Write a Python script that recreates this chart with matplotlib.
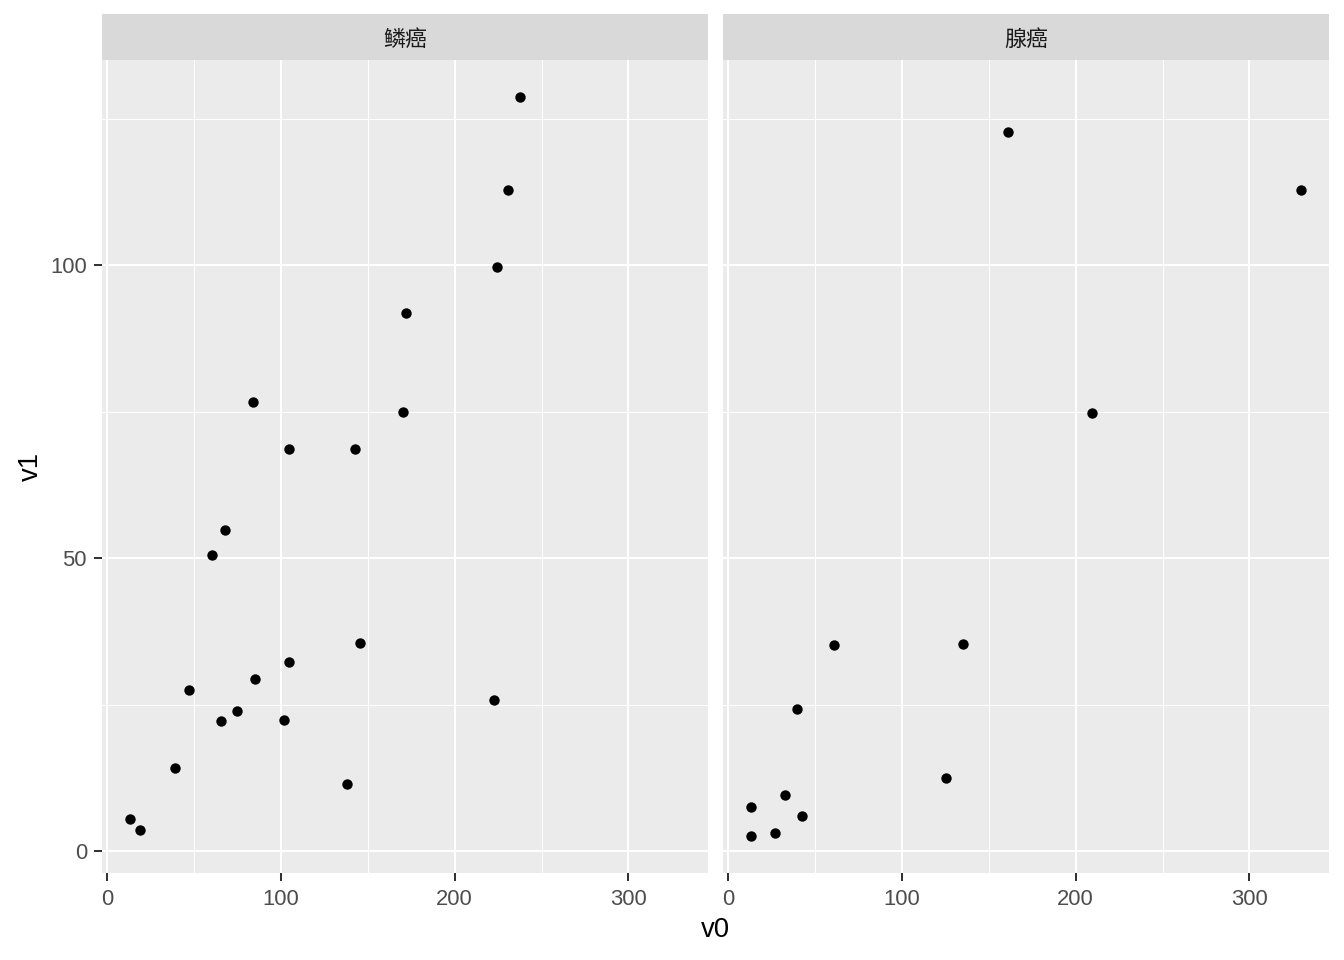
import matplotlib
matplotlib.use("Agg")
import matplotlib.pyplot as plt

plt.rcParams['font.family'] = ['Liberation Sans', 'Noto Sans CJK SC', 'DejaVu Sans']

facets = ["鳞癌", "腺癌"]

sq_v0 = [12.7, 19, 39, 47, 60.4, 65.6, 67.4, 74.8, 84, 85.2, 101.9, 104.8, 104.8,
         138, 142.8, 145.7, 170.4, 172.1, 222.8, 224.5, 230.9, 237.8]
sq_v1 = [5.5, 3.6, 14.2, 27.5, 50.5, 22.2, 54.8, 23.9, 76.6, 29.4, 22.4, 68.6, 32.3,
         11.4, 68.6, 35.5, 74.9, 91.8, 25.8, 99.7, 112.8, 128.7]

ad_v0 = [12.7, 13.2, 26.5, 32.8, 39.7, 42.6, 61, 125.5, 135.3, 161.2, 209.6, 330]
ad_v1 = [7.5, 2.6, 3.1, 9.6, 24.2, 6.1, 35.2, 12.5, 35.3, 122.7, 74.7, 112.8]

data = {"鳞癌": (sq_v0, sq_v1), "腺癌": (ad_v0, ad_v1)}

x_ticks = [0, 100, 200, 300]
x_minor = [50, 150, 250]
y_ticks = [0, 50, 100]
y_minor = [25, 75, 125]

all_x = sq_v0 + ad_v0
all_y = sq_v1 + ad_v1
xr = max(all_x) - min(all_x)
yr = max(all_y) - min(all_y)
xlim = (min(all_x) - 0.05 * xr, max(all_x) + 0.05 * xr)
ylim = (min(all_y) - 0.05 * yr, max(all_y) + 0.05 * yr)

fig = plt.figure(figsize=(13.44, 9.6), dpi=100)
W, H = 1344, 960
lefts = [102, 723]
pw = 606
top, bottom = 60, 873
strip_top = 14

for i, name in enumerate(facets):
    ax = fig.add_axes([lefts[i] / W, (H - bottom) / H, pw / W, (bottom - top) / H])
    ax.set_facecolor("#EBEBEB")
    for s in ax.spines.values():
        s.set_visible(False)
    ax.set_xlim(xlim)
    ax.set_ylim(ylim)
    ax.set_xticks(x_ticks)
    ax.set_xticks(x_minor, minor=True)
    ax.set_yticks(y_ticks)
    ax.set_yticks(y_minor, minor=True)
    ax.grid(which="major", color="white", linewidth=1.45)
    ax.grid(which="minor", color="white", linewidth=0.75)
    ax.set_axisbelow(True)
    ax.tick_params(which="major", length=5.8, width=1.45, color="#333333",
                   labelsize=15.8, labelcolor="#4D4D4D")
    ax.tick_params(axis="x", which="major", pad=5.5)
    ax.tick_params(axis="y", which="major", pad=5)
    ax.tick_params(which="minor", length=0)
    if i > 0:
        ax.tick_params(axis="y", which="major", length=0, labelleft=False)
    xs, ys = data[name]
    ax.scatter(xs, ys, s=56, color="black", linewidths=0, zorder=3)

    sax = fig.add_axes([lefts[i] / W, (H - top) / H, pw / W, (top - strip_top) / H])
    sax.set_facecolor("#D9D9D9")
    sax.set_xticks([])
    sax.set_yticks([])
    for s in sax.spines.values():
        s.set_visible(False)
    sax.text(0.5, 0.43, name, ha="center", va="center", fontsize=15.8, color="#1A1A1A",
             transform=sax.transAxes)

fig.text((lefts[0] + lefts[1] + pw) / 2 / W, 1 - 930 / H, "v0", ha="center", va="center",
         fontsize=19.8, color="black")
fig.text(31 / W, 1 - (top + bottom) / 2 / H, "v1", ha="center", va="center",
         rotation=90, fontsize=19.8, color="black")

fig.savefig("out.png", dpi=100, facecolor="white")
